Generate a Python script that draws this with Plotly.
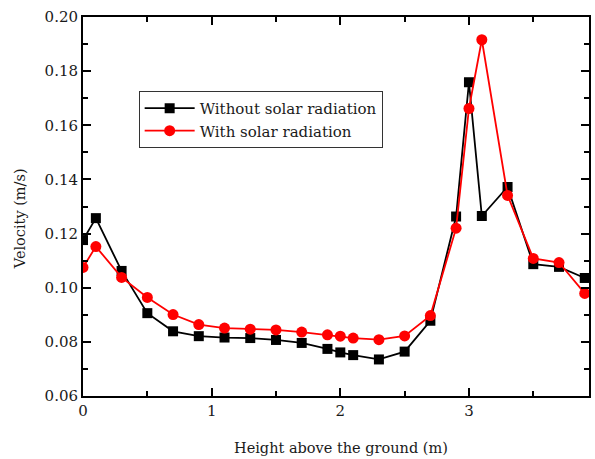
import plotly.graph_objects as go

height_m = [0.0, 0.1, 0.3, 0.5, 0.7, 0.9, 1.1, 1.3, 1.5, 1.7, 1.9, 2.0,
            2.1, 2.3, 2.5, 2.7, 2.9, 3.0, 3.1, 3.3, 3.5, 3.7, 3.9]

vel_no_solar = [0.1176, 0.1257, 0.1062, 0.0906, 0.0839, 0.0821, 0.0816,
                0.0814, 0.0807, 0.0796, 0.0774, 0.0761, 0.0751, 0.0735,
                0.0764, 0.0878, 0.1263, 0.1759, 0.1265, 0.1372, 0.1087,
                0.1077, 0.1036]

vel_solar = [0.1075, 0.1152, 0.1038, 0.0964, 0.0901, 0.0864, 0.0851,
             0.0847, 0.0844, 0.0836, 0.0826, 0.0821, 0.0814, 0.0808,
             0.0822, 0.0897, 0.1220, 0.1662, 0.1916, 0.1341, 0.1108,
             0.1093, 0.0979]

x_ticks = [0, 1, 2, 3]
y_ticks = [0.06, 0.08, 0.10, 0.12, 0.14, 0.16, 0.18, 0.20]

x_title = "Height above the ground (m)"
y_title = "Velocity (m/s)"

FONT = "DejaVu Serif"
TEXT = "#1a1a1a"

fig = go.Figure()
fig.add_trace(go.Scatter(
    x=height_m, y=vel_no_solar, mode="lines+markers",
    name="Without solar radiation",
    line=dict(color="black", width=1.8),
    marker=dict(symbol="square", size=10, color="black"),
))
fig.add_trace(go.Scatter(
    x=height_m, y=vel_solar, mode="lines+markers",
    name="With solar radiation",
    line=dict(color="#ff0000", width=1.8),
    marker=dict(symbol="circle", size=11, color="#ff0000"),
))

axis_common = dict(
    showline=True, linecolor="black", linewidth=2, mirror="ticks",
    ticks="inside", ticklen=8, tickwidth=2, tickcolor="black",
    showgrid=False, zeroline=False,
    tickfont=dict(family=FONT, size=15, color=TEXT),
)

fig.update_xaxes(
    range=[0, 3.933], tickvals=x_ticks, ticktext=[str(v) for v in x_ticks],
    minor=dict(dtick=0.5, ticks="inside", ticklen=5, tickwidth=2,
               tickcolor="black", tick0=0),
    **axis_common,
)
fig.update_yaxes(
    range=[0.06, 0.20], tickvals=y_ticks,
    ticktext=[f"{v:.2f}" for v in y_ticks],
    minor=dict(dtick=0.01, ticks="inside", ticklen=5, tickwidth=2,
               tickcolor="black", tick0=0.06),
    **axis_common,
)

# axis titles placed as paper-anchored text
fig.add_annotation(
    text=x_title, xref="paper", yref="paper", x=0.51, y=-0.137,
    xanchor="center", yanchor="middle", showarrow=False,
    font=dict(family=FONT, size=14.5, color=TEXT),
)
fig.add_annotation(
    text=y_title, xref="paper", yref="paper", x=-0.124, y=0.467,
    xanchor="center", yanchor="middle", showarrow=False, textangle=-90,
    font=dict(family=FONT, size=14.5, color=TEXT),
)

fig.update_layout(
    width=595, height=459,
    margin=dict(l=83, r=4, t=17, b=63),
    plot_bgcolor="white", paper_bgcolor="white",
    font=dict(family=FONT, color=TEXT),
    legend=dict(
        x=0.11, y=0.805, xanchor="left", yanchor="top",
        bgcolor="white", bordercolor="#333", borderwidth=1,
        font=dict(family=FONT, size=15, color=TEXT),
        tracegroupgap=0, itemwidth=50,
    ),
)

fig.write_html("out.html")
